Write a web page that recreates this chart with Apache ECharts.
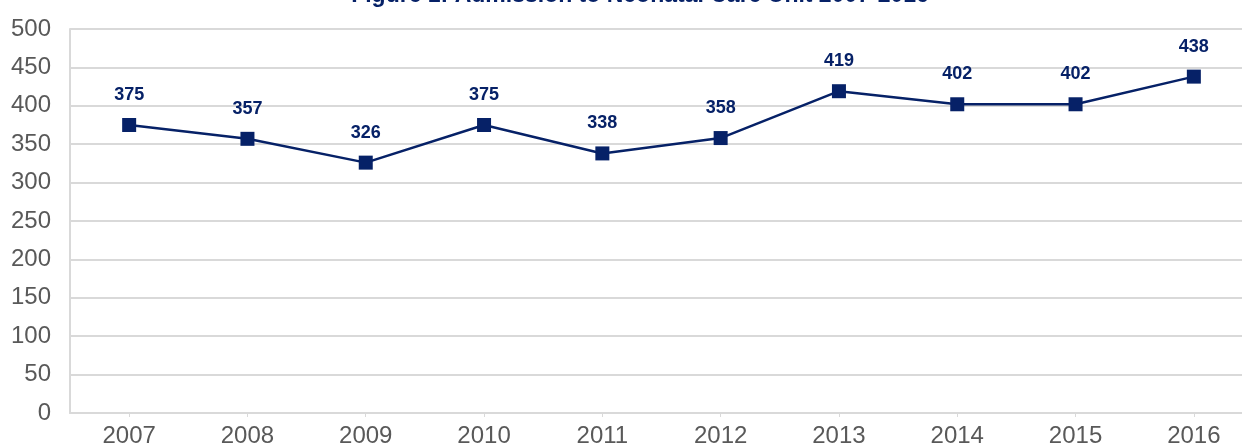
<!DOCTYPE html>
<html>
<head>
<meta charset="utf-8">
<script src="https://cdn.jsdelivr.net/npm/echarts@6/dist/echarts.min.js"></script>
<style>
  html, body { margin: 0; padding: 0; background: #ffffff; }
  #chart { width: 1242px; height: 447px; }
</style>
</head>
<body>
<div id="chart"></div>
<script>
// Admissions to the neonatal care unit, by year
const years = ['2007', '2008', '2009', '2010', '2011', '2012', '2013', '2014', '2015', '2016'];
const admissions = [375, 357, 326, 375, 338, 358, 419, 402, 402, 438];
const titleText = 'Figure 1: Admission to Neonatal Care Unit 2007-2016';

const navy = '#062167';
const gridGrey = '#d9d9d9';
const labelGrey = '#595959';
const baseFont = 'Liberation Sans, Arial, sans-serif';

const chart = echarts.init(document.getElementById('chart'), null, { renderer: 'canvas' });

chart.setOption({
  animation: false,
  backgroundColor: '#ffffff',
  title: {
    text: titleText,
    left: 640,
    textAlign: 'center',
    top: -16,
    padding: 0,
    textStyle: {
      color: navy,
      fontFamily: baseFont,
      fontWeight: 'bold',
      fontSize: 23
    }
  },
  grid: {
    left: 70,
    width: 1183,
    top: 29,
    bottom: 34,
    containLabel: false,
    outerBoundsMode: 'none'
  },
  xAxis: {
    type: 'category',
    data: years,
    boundaryGap: true,
    axisLine: { show: true, lineStyle: { color: gridGrey, width: 2 } },
    axisTick: { show: true, alignWithLabel: true, length: 4, lineStyle: { color: gridGrey, width: 1 } },
    axisLabel: {
      color: labelGrey,
      fontFamily: baseFont,
      fontSize: 24,
      margin: 11
    },
    splitLine: { show: false }
  },
  yAxis: {
    type: 'value',
    min: 0,
    max: 500,
    interval: 50,
    axisLine: { show: true, lineStyle: { color: gridGrey, width: 2 } },
    axisTick: { show: false },
    axisLabel: {
      color: labelGrey,
      fontFamily: baseFont,
      fontSize: 24,
      margin: 19
    },
    splitLine: { show: true, lineStyle: { color: gridGrey, width: 2 } }
  },
  series: [{
    type: 'line',
    data: admissions,
    symbol: 'rect',
    symbolSize: 14,
    showAllSymbol: true,
    lineStyle: { color: navy, width: 2.5 },
    itemStyle: { color: navy },
    label: {
      show: true,
      position: 'top',
      distance: 14,
      color: navy,
      fontFamily: baseFont,
      fontWeight: 'bold',
      fontSize: 18
    }
  }]
});
</script>
</body>
</html>
